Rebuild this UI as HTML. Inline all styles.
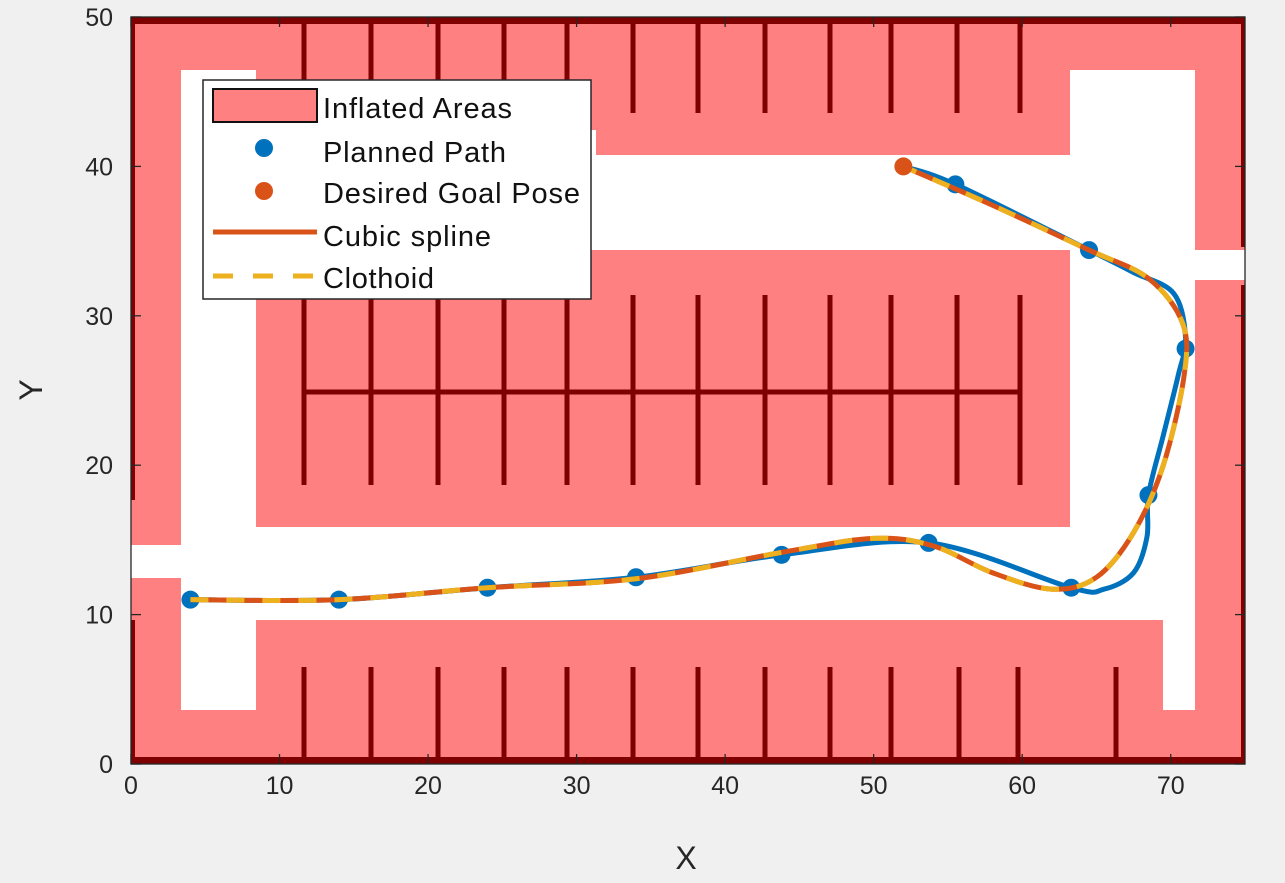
<!DOCTYPE html>
<html><head><meta charset="utf-8"><style>
body{margin:0;background:#f0f0f0;}
svg{display:block;font-family:"Liberation Sans",sans-serif;}
</style></head><body>
<svg width="1285" height="883" viewBox="0 0 1285 883">
<g id="map">
<rect x="131" y="17" width="1114" height="747" fill="#ff8080"/>
<g fill="#ffffff">
<rect x="181" y="70" width="75" height="640"/>
<rect x="1070" y="70" width="125" height="180"/>
<rect x="1163" y="250" width="32" height="460"/>
<rect x="1070" y="250" width="93" height="380"/>
<rect x="256" y="130" width="340" height="120"/>
<rect x="596" y="155" width="474" height="95"/>
<rect x="181" y="527" width="982" height="93"/>
<rect x="131" y="545" width="50" height="33"/>
<rect x="1195" y="250" width="50" height="30"/>
</g>
<rect x="256" y="250" width="814" height="277" rx="14" fill="#ff8080"/>
<rect x="256" y="620" width="907" height="144" rx="12" fill="#ff8080"/>
<rect x="1070" y="620" width="93" height="144" fill="#ff8080"/>
<rect x="256" y="700" width="50" height="64" fill="#ff8080"/>
<g fill="#7f0000">
<rect x="131" y="17" width="1114" height="7"/>
<rect x="131" y="757" width="1114" height="7"/>
<rect x="131" y="17" width="4" height="483"/>
<rect x="131" y="620" width="4" height="144"/>
<rect x="1241" y="17" width="4" height="230"/>
<rect x="1241" y="285" width="4" height="479"/>
</g>
<g id="stalls" stroke="#7f0000" stroke-width="5"></g>
</g>
<g id="axes"></g>
<g id="series"></g>
<text x="686" y="869" font-size="32" fill="#262626" text-anchor="middle">X</text>
<text x="42" y="390" font-size="32" fill="#262626" text-anchor="middle" transform="rotate(-90 42 390)">Y</text>
<g>
<rect x="203" y="80" width="388" height="219" fill="#fff" stroke="#262626" stroke-width="1.5"/>
<rect x="213" y="89" width="104" height="33" fill="#ff8080" stroke="#111" stroke-width="2"/>
<text x="323" y="118" font-size="29" fill="#111" textLength="189">Inflated Areas</text>
<circle cx="264" cy="148" r="9" fill="#0072bd"/>
<text x="323" y="162" font-size="29" fill="#111" textLength="183">Planned Path</text>
<circle cx="264" cy="191" r="9" fill="#d95319"/>
<text x="323" y="203" font-size="29" fill="#111" textLength="257">Desired Goal Pose</text>
<line x1="213" y1="232" x2="317" y2="232" stroke="#d95319" stroke-width="5"/>
<text x="323" y="246" font-size="29" fill="#111" textLength="168">Cubic spline</text>
<line x1="213" y1="276" x2="317" y2="276" stroke="#edb120" stroke-width="5" stroke-dasharray="20,20"/>
<text x="323" y="288" font-size="29" fill="#111" textLength="111">Clothoid</text>
</g>
</svg>
<script>
const xTicks=[0,10,20,30,40,50,60,70];
const yTicks=[0,10,20,30,40,50];
const plannedX=[4,14,24,34,43.8,53.7,63.3,68.5,71,64.5,55.5];
const plannedY=[11,11,11.8,12.5,14,14.8,11.8,18,27.8,34.4,38.8];
const goalX=[52];
const goalY=[40];
const blueX=[4,14,24,34,43.8,53.7,63.3,65.5,67.5,68.4,68.5,69.5,70.5,71,70.2,67.5,64.5,55.5,52];
const blueY=[11,11,11.8,12.5,14,14.8,11.8,11.7,12.8,15.2,18,22,26,28.5,31.5,32.9,34.4,38.8,40];
const smoothX=[4,14,24,34,44,50,54,58,62,65,67.5,69.5,70.9,70.8,68.5,64.5,58,52];
const smoothY=[11,11,11.8,12.4,14.2,15.1,14.6,12.8,11.7,12.5,15.5,20,26,29.5,32.5,34.4,37.4,40];
const stallTopX=[304,371,438,504,567,633,698,765,830,891,957,1020];
const stallBotX=[304,371,438,504,567,633,698,765,830,891,959,1018,1116];
const X0=131,X1=1245,Y0=764,Y1=17;
const sx=v=>X0+v*(X1-X0)/75, sy=v=>Y0-v*(Y0-Y1)/50;
const NS="http://www.w3.org/2000/svg";
function mk(t,a,p){const e=document.createElementNS(NS,t);for(const k in a)e.setAttribute(k,a[k]);p.appendChild(e);return e;}
const st=document.getElementById('stalls');
stallTopX.forEach(x=>{const l=mk('line',{x1:x,y1:20,x2:x,y2:113},st);


const m=mk('line',{x1:x,y1:295,x2:x,y2:485},st);

});
const hl=mk('line',{x1:304,y1:392,x2:1020,y2:392},st);


stallBotX.forEach(x=>{const l=mk('line',{x1:x,y1:667,x2:x,y2:760},st);

});
const ax=document.getElementById('axes');
mk('rect',{x:X0,y:Y1,width:X1-X0,height:Y0-Y1,fill:'none',stroke:'#262626','stroke-width':1.3},ax);
xTicks.forEach(v=>{const x=sx(v);mk('line',{x1:x,y1:Y0,x2:x,y2:Y0-10,stroke:'#262626','stroke-width':1.3},ax);mk('line',{x1:x,y1:Y1,x2:x,y2:Y1+10,stroke:'#262626','stroke-width':1.3},ax);
const t=mk('text',{x:x,y:Y0+30,'font-size':25,fill:'#262626','text-anchor':'middle'},ax);t.textContent=v;

});
yTicks.forEach(v=>{const y=sy(v);mk('line',{x1:X0,y1:y,x2:X0+10,y2:y,stroke:'#262626','stroke-width':1.3},ax);mk('line',{x1:X1,y1:y,x2:X1-10,y2:y,stroke:'#262626','stroke-width':1.3},ax);
const t=mk('text',{x:X0-18,y:y+9,'font-size':25,fill:'#262626','text-anchor':'end'},ax);t.textContent=v;

});
function cr(xs,ys){const P=xs.map((x,i)=>[sx(x),sy(ys[i])]);let d='M'+P[0][0]+','+P[0][1];
for(let i=0;i<P.length-1;i++){const p0=P[i-1]||P[i],p1=P[i],p2=P[i+1],p3=P[i+2]||p2;
d+=' C'+(p1[0]+(p2[0]-p0[0])/6)+','+(p1[1]+(p2[1]-p0[1])/6)+' '+(p2[0]-(p3[0]-p1[0])/6)+','+(p2[1]-(p3[1]-p1[1])/6)+' '+p2[0]+','+p2[1];}return d;}
const se=document.getElementById('series');
const b=mk('path',{d:cr(blueX,blueY),fill:'none',stroke:'#0072bd','stroke-width':5},se);


plannedX.forEach((x,i)=>{const c=mk('circle',{cx:sx(x),cy:sy(plannedY[i]),r:9,fill:'#0072bd'},se);

});
const o=mk('path',{d:cr(smoothX,smoothY),fill:'none',stroke:'#d95319','stroke-width':5},se);


const y=mk('path',{d:cr(smoothX,smoothY),fill:'none',stroke:'#edb120','stroke-width':5,'stroke-dasharray':'18,18'},se);


goalX.forEach((x,i)=>{const c=mk('circle',{cx:sx(x),cy:sy(goalY[i]),r:9,fill:'#d95319'},se);

});
</script>
</body></html>
